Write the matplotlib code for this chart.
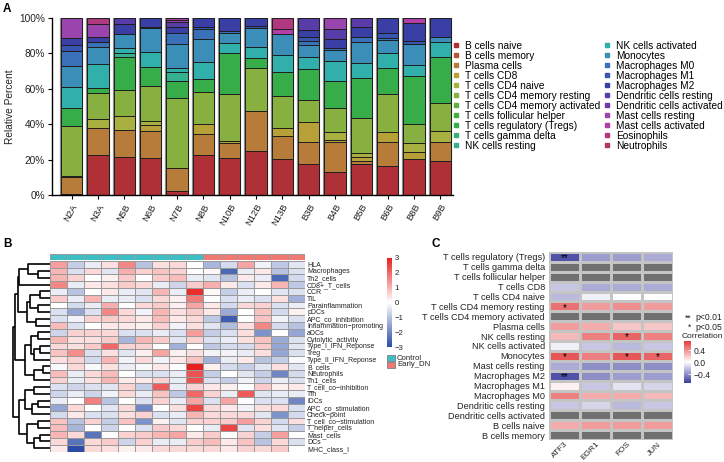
import numpy as np
import matplotlib
matplotlib.use("Agg")
import matplotlib.pyplot as plt
from matplotlib.colors import LinearSegmentedColormap, TwoSlopeNorm
from matplotlib.lines import Line2D
from matplotlib.patches import Rectangle

plt.rcParams["font.family"] = ["Liberation Sans", "DejaVu Sans"]

W, H = 724, 462

# ---------------- panel A data (percent of immune cells per sample) ----------------
samples = ["N2A", "N3A", "N5B", "N6B", "N7B", "N8B", "N10B", "N12B", "N13B",
           "B3B", "B4B", "B5B", "B6B", "B8B", "B9B"]

cell_types = ["B cells naive", "B cells memory", "Plasma cells", "T cells CD8",
              "T cells CD4 naive", "T cells CD4 memory resting",
              "T cells CD4 memory activated", "T cells follicular helper",
              "T cells regulatory (Tregs)", "T cells gamma delta", "NK cells resting",
              "NK cells activated", "Monocytes", "Macrophages M0", "Macrophages M1",
              "Macrophages M2", "Dendritic cells resting", "Dendritic cells activated",
              "Mast cells resting", "Mast cells activated", "Eosinophils", "Neutrophils"]

cell_colors = ["#B03038", "#B8553A", "#B87C3A", "#B8A038", "#A8B040", "#88B040",
               "#60B040", "#40B040", "#37AD4A", "#38B075", "#35B090", "#31AFAA",
               "#3A8EB8", "#3A70B8", "#3855B0", "#3A3FA5", "#5A3CA8", "#7038A8",
               "#9A45AE", "#B040A8", "#B0387E", "#B03860"]

b_naive = [1.0, 22.5, 21.8, 20.8, 2.6, 22.7, 20.8, 25.0, 20.5, 17.4, 13.3, 17.4, 16.7, 20.3, 19.3]
b_memory = [0, 0, 0, 0, 0, 0, 0, 0, 0, 0, 0, 0, 0, 0, 0]
plasma = [9.1, 15.2, 15.0, 15.6, 12.6, 12.0, 8.5, 22.7, 12.7, 12.4, 16.5, 2.1, 13.5, 0.0, 10.5]
cd8 = [0.9, 0, 0, 3.2, 0, 5.3, 1.5, 0, 4.5, 11.7, 1.5, 2.3, 5.3, 3.8, 0]
cd4_naive = [0, 5.1, 7.7, 2.2, 0, 0, 0, 0, 0, 0, 4.3, 1.8, 0, 5.5, 6.6]
cd4_mem_resting = [28.1, 14.8, 14.8, 19.9, 39.8, 18.0, 26.4, 24.2, 18.2, 12.2, 13.4, 19.7, 21.3, 10.4, 15.4]
cd4_mem_activated = [0, 0, 0, 0, 0, 0, 0, 0, 0, 0, 0, 0, 0, 0, 0]
tfh = [0, 0, 0, 0, 0, 0, 0, 0, 0, 0, 0, 0, 0, 0, 0]
tregs = [10.2, 3.0, 18.4, 10.7, 9.4, 7.5, 22.9, 5.2, 13.7, 17.4, 15.4, 22.6, 15.1, 27.2, 26.2]
gamma_delta = [0, 0, 0, 0, 0, 0, 0, 0, 0, 0, 0, 0, 0, 0, 0]
nk_resting = [0, 0, 2.2, 0, 5.2, 0, 0, 0, 0, 0, 0, 0, 0, 0, 0]
nk_activated = [11.6, 13.1, 2.8, 8.1, 2.3, 9.5, 5.4, 6.6, 9.4, 6.9, 11.2, 8.4, 8.0, 6.2, 8.5]
monocytes = [12.0, 9.6, 8.3, 13.5, 13.3, 13.0, 5.7, 10.3, 11.8, 6.6, 6.2, 12.2, 7.5, 11.6, 2.8]
macro_m0 = [8.1, 3.2, 0, 1.0, 6.0, 5.4, 1.5, 0, 0, 2.3, 1.2, 2.8, 1.0, 0, 0]
macro_m1 = [3.9, 0, 0, 0, 0, 1.6, 0, 1.3, 0, 2.4, 0, 0, 2.8, 1.7, 0]
macro_m2 = [3.8, 2.8, 5.6, 5.0, 3.7, 5.0, 7.3, 4.7, 0, 3.8, 4.8, 5.6, 8.8, 10.1, 10.7]
dc_resting = [0, 0, 3.4, 0, 2.4, 0, 0, 0, 0, 6.9, 5.8, 5.1, 0, 0, 0]
dc_activated = [0, 0, 0, 0, 0, 0, 0, 0, 0, 0, 0, 0, 0, 0, 0]
mast_resting = [11.3, 6.9, 0, 0, 1.5, 0, 0, 0, 0, 0, 6.4, 0, 0, 0, 0]
mast_activated = [0, 0, 0, 0, 1.2, 0, 0, 0, 2.8, 0, 0, 0, 0, 3.2, 0]
eosinophils = [0, 3.8, 0, 0, 0, 0, 0, 0, 6.4, 0, 0, 0, 0, 0, 0]
neutrophils = [0, 0, 0, 0, 0, 0, 0, 0, 0, 0, 0, 0, 0, 0, 0]

fractions = [b_naive, b_memory, plasma, cd8, cd4_naive, cd4_mem_resting,
             cd4_mem_activated, tfh, tregs, gamma_delta, nk_resting, nk_activated,
             monocytes, macro_m0, macro_m1, macro_m2, dc_resting, dc_activated,
             mast_resting, mast_activated, eosinophils, neutrophils]

# ---------------- panel B data (ssGSEA z-scores) ----------------
signatures = ["HLA", "Macrophages", "Th2_cells", "CD8+_T_cells", "CCR", "TIL",
              "Parainflammation", "pDCs", "APC_co_inhibition", "Inflammation\u2212promoting",
              "aDCs", "Cytolytic_activity", "Type_I_IFN_Reponse", "Treg",
              "Type_II_IFN_Reponse", "B_cells", "Neutrophils", "Th1_cells",
              "T_cell_co\u2212inhibition", "Tfh", "iDCs", "APC_co_stimulation",
              "Check\u2212point", "T_cell_co\u2212stimulation", "T_helper_cells",
              "Mast_cells", "DCs", "MHC_class_I"]
groups = ["Control"] * 9 + ["Early_DN"] * 6
group_colors = {"Control": "#3CBFC4", "Early_DN": "#F07A72"}

scores = [
    [1.3, -0.8, -0.3, 0.4, 1.6, -1.0, 0.4, 0.5, 0.0, -1.2, -0.6, 1.2, -0.2, -0.9, -0.4],
    [1.0, -0.5, 0.5, -0.4, 1.1, 0.6, 0.8, 0.6, 0.0, 0.1, -2.5, -0.3, 0.3, -1.0, -0.5],
    [1.0, 0.6, 0.0, 0.2, 0.7, 0.0, 0.7, 0.9, -0.3, -0.4, -1.0, 0.3, -0.3, -2.5, -0.6],
    [1.6, -0.3, 0.3, 0.4, 0.7, 0.5, -0.3, -0.7, 0.7, 1.1, 0.3, -0.5, 0.3, 1.0, -0.9],
    [-0.3, -1.0, 0.0, 0.3, -0.3, -0.4, 1.0, -0.3, 2.8, 0.1, -0.8, -0.3, 0.0, -0.4, -0.5],
    [0.7, -0.3, 1.0, -0.3, -0.3, -0.5, 0.5, 0.2, 1.8, 0.0, -0.5, -0.3, -0.5, 0.4, -1.3],
    [0.0, -0.6, -0.3, 1.1, 0.0, 0.5, 0.7, 0.2, 1.2, 0.3, -0.6, 0.5, 0.6, -0.5, -0.3],
    [-0.5, -1.5, -0.5, 1.6, 0.5, -0.2, 1.0, 0.4, 0.7, 0.3, -1.4, 0.0, 0.8, -0.6, 0.2],
    [-0.5, -0.2, 0.6, 0.7, 0.5, 0.3, 0.9, 0.3, 0.5, -0.9, -2.7, 0.0, 0.8, -0.2, -0.5],
    [0.9, -0.5, 0.0, 0.3, 0.3, 0.2, 0.6, -0.2, 0.4, -0.4, -1.1, 0.4, 1.6, -0.6, -1.0],
    [-0.7, 0.6, 0.6, 0.5, -0.5, -0.5, -0.3, -0.5, 1.3, -0.8, -0.5, 0.4, -1.8, 0.0, -1.5],
    [1.0, 0.4, 0.4, 0.7, -1.2, 1.0, 0.7, -0.4, 0.6, -0.5, -0.3, 0.4, 0.8, -1.4, -0.5],
    [0.5, 0.4, 0.7, 2.0, 0.6, 0.6, 0.0, -1.3, 0.0, -0.9, -0.6, -0.6, 0.7, -1.5, -0.4],
    [0.8, 1.5, -0.5, 0.4, -0.4, 0.2, 1.2, 0.2, 0.4, -0.2, -0.2, -0.3, 0.4, -1.5, -0.5],
    [0.4, 0.6, -0.6, 1.0, -0.2, 0.5, -0.2, 0.3, 0.8, -1.3, -0.3, 0.3, -1.0, -0.8, -0.1],
    [-0.1, 0.5, -0.1, 0.4, -0.3, -0.1, 0.3, 0.0, 3.0, 0.2, -0.6, -0.8, -0.4, 0.4, -0.4],
    [0.9, -0.3, 0.5, 0.9, 0.0, -0.5, -0.5, -0.3, 2.3, -0.8, 0.0, -0.4, -0.8, -2.0, -0.6],
    [0.6, -0.3, 0.4, 1.0, 0.3, 0.3, 0.6, -0.3, 2.3, -0.5, -0.8, -0.2, -0.7, -0.3, -0.5],
    [-0.5, -0.7, -0.5, -0.4, 0.6, -0.8, 2.2, -0.3, 0.6, 0.3, 0.2, 0.0, 0.7, 0.2, 0.3],
    [-0.7, -0.3, -0.7, -0.2, 0.5, -0.3, 0.8, -0.9, 2.0, 0.6, -0.3, 2.2, -0.4, -0.3, -0.3],
    [-0.3, 0.0, 1.7, -1.0, 0.0, -0.5, 0.6, -0.3, 1.2, -0.5, 1.2, 0.0, -0.5, -0.5, -2.0],
    [-1.5, 0.5, 0.0, -0.4, 0.5, -2.0, 0.0, 0.4, 2.5, 0.5, 0.3, -0.2, 0.4, 0.5, -0.5],
    [-0.6, 0.3, -0.5, -0.5, 0.4, 0.6, -0.5, -0.3, 1.0, 0.5, 0.5, 0.5, -0.4, -1.8, -0.6],
    [0.8, -1.0, 0.6, -0.8, 0.8, -1.8, 0.2, -0.4, 0.6, 0.6, 0.7, 1.3, 0.6, -0.6, 0.4],
    [0.9, -1.2, 0.0, -0.7, 0.0, -0.5, 0.7, 0.5, 0.0, -0.3, 2.5, -0.4, 0.4, -0.4, -0.8],
    [1.0, 0.5, -2.3, 0.0, 0.6, 0.7, 1.0, 1.2, 0.3, 0.7, 0.0, 0.6, -0.8, 1.3, 0.0],
    [0.5, -2.3, 0.5, 0.7, -0.7, 0.6, -0.3, -0.3, 0.7, 0.9, 0.3, 0.8, -1.0, 0.5, -0.5],
    [0.3, -3.0, 0.5, 0.4, 0.2, 0.3, 0.5, 0.5, 0.5, 0.5, 0.3, 0.6, 0.5, 0.7, 0.0],
]

# row clustering: (merge height, left, right), leaves are row indices
row_tree = (1.00,
            (0.93,
             (0.86,
              (0.82, (0.58, 0, (0.32, 1, 2)), 3),
              (0.63, (0.53, (0.26, 4, 5), (0.32, 6, 7)), (0.37, 8, 9))),
             (0.66,
              (0.50, (0.32, 10, 11), (0.42, (0.26, 12, 13), 14)),
              (0.42, (0.20, 15, 16), 17))),
            (0.82,
             (0.68, (0.42, 18, 19), (0.47, (0.32, 20, 21), 22)),
             (0.63, (0.32, 23, 24), (0.42, (0.26, 25, 26), 27))))

# ---------------- panel C data (correlation with hub genes) ----------------
immune_rows = ["T cells regulatory (Tregs)", "T cells gamma delta", "T cells follicular helper",
               "T cells CD8", "T cells CD4 naive", "T cells CD4 memory resting",
               "T cells CD4 memory activated", "Plasma cells", "NK cells resting",
               "NK cells activated", "Monocytes", "Mast cells resting", "Macrophages M2",
               "Macrophages M1", "Macrophages M0", "Dendritic cells resting",
               "Dendritic cells activated", "B cells naive", "B cells memory"]
genes = ["ATF3", "EGR1", "FOS", "JUN"]
nan = np.nan
atf3 = [-0.62, nan, nan, -0.2, -0.25, 0.5, nan, 0.35, 0.25, -0.05, 0.6, -0.3, -0.62, 0.05, 0.45, -0.2, nan, 0.3, nan]
egr1 = [-0.35, nan, nan, -0.3, -0.05, 0.35, nan, 0.3, 0.45, -0.2, 0.45, -0.4, -0.4, -0.2, 0.3, -0.15, nan, 0.35, nan]
fos = [-0.35, nan, nan, -0.3, 0.0, 0.4, nan, 0.2, 0.55, -0.25, 0.6, -0.4, -0.35, -0.1, 0.3, -0.25, nan, 0.35, nan]
jun = [-0.3, nan, nan, -0.3, 0.0, 0.35, nan, 0.2, 0.45, -0.2, 0.55, -0.4, -0.35, -0.15, 0.25, -0.2, nan, 0.35, nan]
atf3_sig = ["**", "", "", "", "", "*", "", "", "", "", "*", "", "**", "", "", "", "", "", ""]
egr1_sig = [""] * 19
fos_sig = ["", "", "", "", "", "", "", "", "*", "", "*", "", "", "", "", "", "", "", ""]
jun_sig = ["", "", "", "", "", "", "", "", "", "", "*", "", "", "", "", "", "", "", ""]


def box(x0, y0, x1, y1):
    return [x0 / W, 1 - y1 / H, (x1 - x0) / W, (y1 - y0) / H]


fig = plt.figure(figsize=(W / 100, H / 100), dpi=100)

# ================= A: stacked bars =================
axA = fig.add_axes(box(52, 17.7, 453, 195.3))
x = np.arange(len(samples))
totals = np.sum(np.array(fractions), axis=0)
axA.bar(x, totals, 0.81, facecolor="none", edgecolor="#8c8c8c", linewidth=1.6, zorder=1)
bottom = np.zeros(len(samples))
for vals, col in zip(fractions, cell_colors):
    vals = np.array(vals, dtype=float)
    keep = vals > 0
    if keep.any():
        axA.bar(x[keep], vals[keep], 0.81, bottom=bottom[keep], color=col,
                edgecolor="#1e1e1e", linewidth=0.7, zorder=2)
    bottom += vals
axA.set_xlim(-0.75, len(samples) - 0.52)
axA.set_ylim(0, 100)
axA.set_yticks([0, 20, 40, 60, 80, 100])
axA.set_yticklabels([f"{v}%" for v in [0, 20, 40, 60, 80, 100]], fontsize=7.3, color="#222222")
axA.set_xticks(x)
axA.set_xticklabels(samples, rotation=60, ha="right", va="top", rotation_mode="anchor",
                    fontsize=6.8, color="#222222")
axA.set_ylabel("Relative Percent", fontsize=7.3, color="#222222", labelpad=3)
for s in ["top", "right"]:
    axA.spines[s].set_visible(False)
for s in ["left", "bottom"]:
    axA.spines[s].set_linewidth(1.0)
axA.tick_params(length=3, width=0.8, pad=2)

handles = [Line2D([], [], ls="none", marker="s", ms=3.3, mfc=c, mec=c) for c in cell_colors]
fig.legend(handles, cell_types, loc="upper left", bbox_to_anchor=(452 / W, 1 - 41 / H),
           ncol=2, frameon=False, fontsize=7.3, handlelength=0.8, handletextpad=0.5,
           labelspacing=0.0, columnspacing=0.2, borderpad=0, borderaxespad=0)

# ================= B: heatmap with dendrogram =================
cmapB = LinearSegmentedColormap.from_list("bwr_ph", ["#2A4BA8", "#FFFFFF", "#E8201E"])
axAnn = fig.add_axes(box(50, 254, 305, 259.5))
ann = np.array([[0 if g == "Control" else 1 for g in groups]])
axAnn.pcolormesh(ann, cmap=LinearSegmentedColormap.from_list(
    "ann", [group_colors["Control"], group_colors["Early_DN"]]),
    edgecolors="#9a9a9a", linewidth=0.6)
axAnn.set_axis_off()

axB = fig.add_axes(box(50, 260.7, 305, 451.7))
meshB = axB.pcolormesh(np.array(scores), cmap=cmapB, vmin=-3, vmax=3,
                       edgecolors="#9a9a9a", linewidth=0.6)
axB.set_ylim(len(signatures), 0)
axB.set_xticks([])
axB.yaxis.tick_right()
axB.set_yticks(np.arange(len(signatures)) + 0.5)
axB.set_yticklabels(signatures, fontsize=5.0, color="#222222")
axB.tick_params(axis="y", length=0, pad=1.5)
for s in axB.spines.values():
    s.set_visible(False)

axD = fig.add_axes(box(12, 260.7, 50, 451.7))


def draw_tree(ax, node):
    if not isinstance(node, tuple):
        return node + 0.5, 0.0
    h, left, right = node
    yl, hl = draw_tree(ax, left)
    yr, hr = draw_tree(ax, right)
    ax.plot([hl, h, h, hr], [yl, yl, yr, yr], color="black", lw=1.2, solid_capstyle="butt")
    return (yl + yr) / 2, h


draw_tree(axD, row_tree)
axD.set_xlim(1.02, 0)
axD.set_ylim(len(signatures), 0)
axD.set_axis_off()

caxB = fig.add_axes(box(387, 258, 392, 347))
cbB = fig.colorbar(meshB, cax=caxB, ticks=[-3, -2, -1, 0, 1, 2, 3])
cbB.outline.set_visible(False)
caxB.tick_params(length=0, labelsize=5.6, pad=2, labelcolor="#222222")
caxB.set_yticklabels([f"{t}".replace("-", "\u2212") for t in [-3, -2, -1, 0, 1, 2, 3]])

for i, g in enumerate(["Control", "Early_DN"]):
    fig.add_artist(Rectangle((387 / W, 1 - (361 + 6.5 * i) / H), 8 / W, 6 / H,
                             transform=fig.transFigure, facecolor=group_colors[g],
                             edgecolor="#8a8a8a", lw=0.7))
    fig.text(397 / W, 1 - (358 + 6.5 * i) / H, g, fontsize=5.6, va="center", color="#222222")

# ================= C: correlation heatmap =================
cmapC = LinearSegmentedColormap.from_list("corr", ["#3B3B9E", "#FFFFFF", "#E33B3B"])
cmapC.set_bad("#707070")
corr = np.ma.masked_invalid(np.array([atf3, egr1, fos, jun]).T)
axC = fig.add_axes(box(549, 252, 673, 440))
meshC = axC.pcolormesh(corr, cmap=cmapC, norm=TwoSlopeNorm(0, -0.7, 0.7),
                       edgecolors="#c4c4c4", linewidth=0.8)
axC.set_ylim(len(immune_rows), 0)
axC.set_xlim(0, len(genes))
sigs = [atf3_sig, egr1_sig, fos_sig, jun_sig]
for j, col in enumerate(sigs):
    for i, s in enumerate(col):
        if s:
            axC.text(j + 0.5, i + 0.62, s, ha="center", va="center", fontsize=7, color="black")
axC.set_yticks(np.arange(len(immune_rows)) + 0.5)
axC.set_yticklabels(immune_rows, fontsize=6.6, color="#222222")
axC.set_xticks(np.arange(len(genes)) + 0.5)
axC.set_xticklabels(genes, rotation=45, ha="right", va="top", rotation_mode="anchor",
                    fontsize=6.0, color="#222222")
axC.tick_params(axis="y", length=0, pad=3)
axC.tick_params(axis="x", length=0, pad=0.5)
for s in axC.spines.values():
    s.set_visible(False)

fig.text(685 / W, 1 - 318 / H, "**", fontsize=6.2, va="center", color="#222222")
fig.text(695 / W, 1 - 318 / H, "p<0.01", fontsize=6.2, va="center", color="#222222")
fig.text(688 / W, 1 - 327 / H, "*", fontsize=6.2, va="center", color="#222222")
fig.text(695 / W, 1 - 327 / H, "p<0.05", fontsize=6.2, va="center", color="#222222")
fig.text(682 / W, 1 - 336 / H, "Correlation", fontsize=6.0, va="center", color="#222222")
caxC = fig.add_axes(box(684, 341, 691, 383))
cbC = fig.colorbar(meshC, cax=caxC, ticks=[-0.4, 0.0, 0.4])
cbC.outline.set_visible(False)
caxC.set_yticklabels(["\u22120.4", "0.0", "0.4"])
caxC.tick_params(length=2, width=0.6, color="white", direction="in", labelsize=6.2,
                 labelcolor="#222222", pad=2)

# panel letters
fig.text(3 / W, 1 - 9 / H, "A", fontsize=8.5, fontweight="bold", va="center")
fig.text(3 / W, 1 - 244 / H, "B", fontsize=8.5, fontweight="bold", va="center")
fig.text(432 / W, 1 - 244 / H, "C", fontsize=8.5, fontweight="bold", va="center")

fig.savefig("out.png", dpi=100)
